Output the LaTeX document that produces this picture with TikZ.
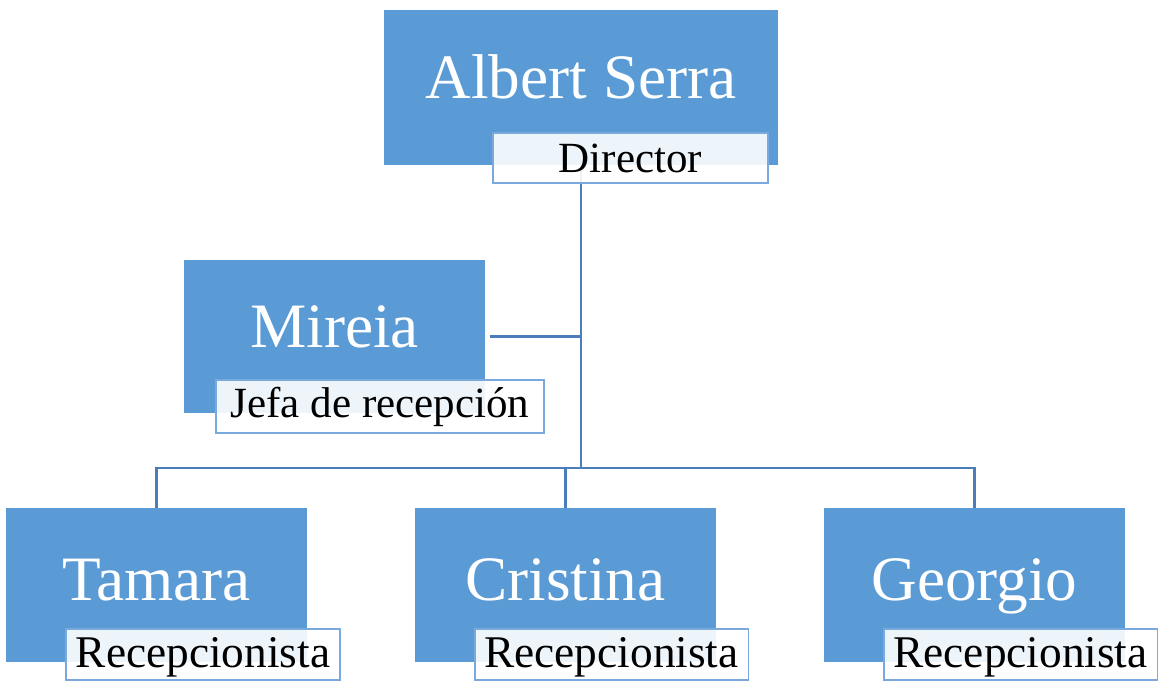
\documentclass[tikz,border=0pt]{standalone}
\usepackage{fontspec}
\setmainfont{Liberation Serif}
\usetikzlibrary{positioning}
\definecolor{boxblue}{HTML}{5B9BD5}
\definecolor{lineblue}{HTML}{4A7EBB}
\definecolor{tagline}{HTML}{7AAADD}

\begin{document}
\begin{tikzpicture}[
    x=0.02cm, y=-0.02cm,
    every node/.style={inner sep=0pt, outer sep=0pt},
    person/.style={fill=boxblue, text=white, font=\fontsize{36}{36}\selectfont, minimum width=6.02cm, minimum height=3.08cm, text height=0.9cm, text depth=0.45cm},
    role/.style={draw=tagline, line width=1.1pt, fill=white, fill opacity=0.9, text opacity=1, font=\fontsize{24.5}{24.5}\selectfont, minimum width=5.48cm, minimum height=1.02cm},
    conn/.style={draw=lineblue, line width=1.3pt}
]
\useasboundingbox (0,0) rectangle (1159,681);

% cajas
\node[person, minimum width=7.88cm, minimum height=3.1cm] (albert) at (581,87.5) {Albert Serra};
\node[person] (mireia) at (334.5,336.5) {Mireia};
\node[person, text depth=0.3cm] (tamara) at (156.5,585) {Tamara};
\node[person, text depth=0.3cm] (cristina) at (565.5,585) {Cristina};
\node[person, text depth=0.3cm] (georgio) at (974.5,585) {Georgio};

% lineas
\coordinate (bus) at (581,468);
\draw[conn] (albert.south) -- (albert.south |- bus);
\draw[conn] ([xshift=0.1cm]mireia.east) -- (mireia.east -| albert.south);
\draw[conn] (tamara.north) -- (tamara.north |- bus) -- (georgio.north |- bus) -- (georgio.north);
\draw[conn] (cristina.north) -- (cristina.north |- bus);

% cargos
\node[role, minimum width=5.5cm, minimum height=1cm] (director) at (630.5,158) {Director};
\node[role, minimum width=6.56cm, minimum height=1.06cm] (jefa) at (380,406.5) {Jefa de recepción};
\node[role, font=\fontsize{25.8}{25.8}\selectfont, text depth=0.1cm] (rec1) at (203,654.5) {Recepcionista};
\node[role, font=\fontsize{25.8}{25.8}\selectfont, text depth=0.1cm] (rec2) at (611.5,654.5) {Recepcionista};
\node[role, font=\fontsize{25.8}{25.8}\selectfont, text depth=0.1cm] (rec3) at (1020.5,654.5) {Recepcionista};

\end{tikzpicture}
\end{document}
